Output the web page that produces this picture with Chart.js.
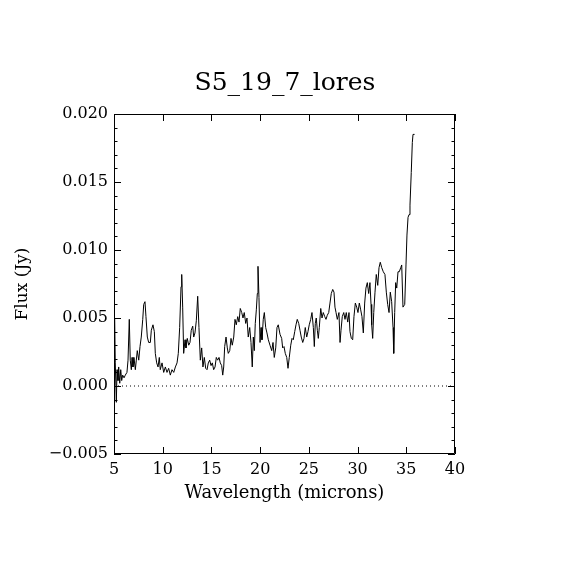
<!DOCTYPE html>
<html>
<head>
<meta charset="utf-8">
<title>S5_19_7_lores</title>
<script src="https://cdn.jsdelivr.net/npm/chart.js@4.4.1/dist/chart.umd.min.js"></script>
<style>
  html, body { margin: 0; padding: 0; background: #fff; }
  #wrap { width: 570px; height: 570px; }
</style>
</head>
<body>
<div id="wrap"><canvas id="spectrum"></canvas></div>
<script>
const wavelength = [
  5.07, 5.13, 5.24, 5.31, 5.41, 5.48, 5.59, 5.69, 5.79, 5.89,
  6.03, 6.16, 6.33, 6.44, 6.57, 6.67, 6.78, 6.85, 6.95, 7.05,
  7.19, 7.29, 7.39, 7.54, 7.67, 7.80, 7.95, 8.05, 8.18, 8.28,
  8.42, 8.56, 8.73, 8.83, 9.00, 9.14, 9.24, 9.38, 9.52, 9.65,
  9.75, 9.93, 10.10, 10.27, 10.44, 10.61, 10.78, 10.95, 11.13, 11.30,
  11.47, 11.60, 11.74, 11.88, 11.95, 12.05, 12.15, 12.29, 12.39, 12.52,
  12.67, 12.80, 12.93, 13.08, 13.18, 13.31, 13.45, 13.59, 13.72, 13.86,
  14.00, 14.13, 14.27, 14.41, 14.55, 14.68, 14.82, 14.96, 15.09, 15.23,
  15.37, 15.50, 15.64, 15.78, 15.91, 16.05, 16.16, 16.26, 16.36, 16.50,
  16.63, 16.73, 16.88, 17.01, 17.14, 17.29, 17.42, 17.55, 17.70, 17.83,
  17.96, 18.11, 18.24, 18.37, 18.52, 18.65, 18.78, 18.93, 19.06, 19.19,
  19.30, 19.40, 19.50, 19.61, 19.71, 19.78, 19.88, 19.99, 20.09, 20.19,
  20.32, 20.43, 20.57, 20.70, 20.84, 21.01, 21.19, 21.32, 21.45, 21.60,
  21.73, 21.86, 22.04, 22.21, 22.31, 22.45, 22.58, 22.73, 22.86, 22.99,
  23.14, 23.27, 23.40, 23.55, 23.68, 23.81, 23.96, 24.09, 24.22, 24.37,
  24.50, 24.63, 24.78, 24.91, 25.04, 25.19, 25.32, 25.46, 25.56, 25.66,
  25.76, 25.87, 25.97, 26.07, 26.22, 26.35, 26.48, 26.63, 26.76, 26.89,
  27.04, 27.17, 27.30, 27.45, 27.58, 27.68, 27.79, 27.92, 28.09, 28.20,
  28.30, 28.43, 28.58, 28.71, 28.84, 28.99, 29.12, 29.22, 29.36, 29.50,
  29.63, 29.77, 29.91, 30.04, 30.18, 30.32, 30.45, 30.59, 30.73, 30.86,
  31.00, 31.14, 31.27, 31.38, 31.45, 31.55, 31.66, 31.79, 31.92, 32.07,
  32.20, 32.33, 32.48, 32.64, 32.81, 32.95, 33.09, 33.23, 33.36, 33.50,
  33.64, 33.71, 33.81, 33.91, 34.02, 34.15, 34.28, 34.43, 34.53, 34.66,
  34.84, 34.97, 35.07, 35.18, 35.28, 35.38, 35.51, 35.62, 35.69, 35.85
];
const flux = [
  0.0050, 0.0017, -0.0012, 0.0012, 0.0004, 0.0014, 0.0002, 0.0012, 0.0004, 0.0008,
  0.0006, 0.0008, 0.0010, 0.0019, 0.0049, 0.0019, 0.0012, 0.0021, 0.0014, 0.0021,
  0.0012, 0.0019, 0.0026, 0.0019, 0.0029, 0.0036, 0.0049, 0.0060, 0.0062, 0.0051,
  0.0036, 0.0032, 0.0032, 0.0041, 0.0045, 0.0040, 0.0024, 0.0017, 0.0014, 0.0021,
  0.0012, 0.0017, 0.0010, 0.0014, 0.0010, 0.0013, 0.0008, 0.0012, 0.0010, 0.0014,
  0.0017, 0.0024, 0.0043, 0.0073, 0.0082, 0.0058, 0.0024, 0.0034, 0.0028, 0.0035,
  0.0030, 0.0032, 0.0041, 0.0044, 0.0036, 0.0039, 0.0048, 0.0066, 0.0043, 0.0019,
  0.0028, 0.0014, 0.0021, 0.0013, 0.0012, 0.0017, 0.0019, 0.0015, 0.0017, 0.0012,
  0.0014, 0.0021, 0.0019, 0.0021, 0.0017, 0.0015, 0.0008, 0.0014, 0.0029, 0.0036,
  0.0028, 0.0024, 0.0026, 0.0035, 0.0030, 0.0036, 0.0049, 0.0045, 0.0051, 0.0047,
  0.0057, 0.0054, 0.0050, 0.0054, 0.0046, 0.0050, 0.0036, 0.0043, 0.0032, 0.0014,
  0.0036, 0.0026, 0.0046, 0.0056, 0.0068, 0.0088, 0.0065, 0.0032, 0.0043, 0.0034,
  0.0049, 0.0054, 0.0043, 0.0039, 0.0034, 0.0030, 0.0026, 0.0032, 0.0021, 0.0028,
  0.0043, 0.0045, 0.0038, 0.0035, 0.0028, 0.0029, 0.0024, 0.0021, 0.0013, 0.0021,
  0.0030, 0.0035, 0.0034, 0.0040, 0.0045, 0.0049, 0.0046, 0.0041, 0.0036, 0.0032,
  0.0035, 0.0043, 0.0036, 0.0040, 0.0045, 0.0049, 0.0054, 0.0043, 0.0029, 0.0046,
  0.0050, 0.0041, 0.0035, 0.0043, 0.0057, 0.0050, 0.0054, 0.0051, 0.0049, 0.0052,
  0.0054, 0.0061, 0.0068, 0.0071, 0.0069, 0.0058, 0.0054, 0.0049, 0.0054, 0.0032,
  0.0041, 0.0051, 0.0054, 0.0049, 0.0054, 0.0047, 0.0054, 0.0040, 0.0035, 0.0034,
  0.0051, 0.0061, 0.0058, 0.0054, 0.0061, 0.0056, 0.0051, 0.0039, 0.0061, 0.0072,
  0.0076, 0.0068, 0.0076, 0.0060, 0.0045, 0.0035, 0.0054, 0.0069, 0.0082, 0.0074,
  0.0087, 0.0091, 0.0087, 0.0084, 0.0082, 0.0069, 0.0060, 0.0054, 0.0069, 0.0062,
  0.0043, 0.0024, 0.0054, 0.0076, 0.0072, 0.0084, 0.0084, 0.0087, 0.0089, 0.0058,
  0.0060, 0.0089, 0.0111, 0.0124, 0.0126, 0.0133, 0.0157, 0.0179, 0.0185, 0.0185
];

// dotted zero level
const zeroWave = [5, 40];
const zeroFlux = [0, 0];

const xTickValues = [5, 10, 15, 20, 25, 30, 35, 40];
const xTickLabels = ['5', '10', '15', '20', '25', '30', '35', '40'];
const yTickValues = [-0.005, 0, 0.005, 0.010, 0.015, 0.020];
const yTickLabels = ['\u22120.005', '0.000', '0.005', '0.010', '0.015', '0.020'];
const yMinorPerMajor = 5;

const serif = '"DejaVu Serif", "Liberation Serif", serif';

// box on all four sides with ticks pointing inward, the way IDL draws it
const framePlugin = {
  id: 'frame',
  afterDatasetsDraw(chart) {
    const { ctx, chartArea: a, scales: { x, y } } = chart;
    const major = 7, minor = 3.5;
    ctx.save();
    ctx.strokeStyle = '#000';
    ctx.lineWidth = 1;
    ctx.beginPath();
    ctx.rect(a.left + 0.5, a.top + 0.5, a.right - a.left - 1, a.bottom - a.top - 1);
    xTickValues.forEach(v => {
      const px = Math.round(x.getPixelForValue(v)) + 0.5;
      ctx.moveTo(px, a.bottom); ctx.lineTo(px, a.bottom - major);
      ctx.moveTo(px, a.top); ctx.lineTo(px, a.top + major);
    });
    for (let i = 0; i < yTickValues.length; i++) {
      const py = Math.round(y.getPixelForValue(yTickValues[i])) + 0.5;
      ctx.moveTo(a.left, py); ctx.lineTo(a.left + major, py);
      ctx.moveTo(a.right, py); ctx.lineTo(a.right - major, py);
      if (i === yTickValues.length - 1) break;
      const step = (yTickValues[i + 1] - yTickValues[i]) / yMinorPerMajor;
      for (let k = 1; k < yMinorPerMajor; k++) {
        const pm = Math.round(y.getPixelForValue(yTickValues[i] + k * step)) + 0.5;
        ctx.moveTo(a.left, pm); ctx.lineTo(a.left + minor, pm);
        ctx.moveTo(a.right, pm); ctx.lineTo(a.right - minor, pm);
      }
    }
    ctx.stroke();
    ctx.restore();
  }
};

const ctx = document.getElementById('spectrum').getContext('2d');
const spectrumChart = new Chart(ctx, {
  type: 'line',
  data: {
    datasets: [
      {
        data: wavelength.map((w, i) => ({ x: w, y: flux[i] })),
        borderColor: '#000',
        borderWidth: 1,
        pointRadius: 0,
        tension: 0
      },
      {
        data: zeroWave.map((w, i) => ({ x: w, y: zeroFlux[i] })),
        borderColor: '#000',
        borderWidth: 1,
        borderDash: [1, 3],
        pointRadius: 0
      }
    ]
  },
  options: {
    responsive: true,
    maintainAspectRatio: false,
    animation: false,
    events: [],
    layout: { padding: 0 },
    plugins: {
      legend: { display: false },
      tooltip: { enabled: false },
      title: {
        display: true,
        text: 'S5_19_7_lores',
        color: '#000',
        font: { family: serif, size: 25, weight: 'normal' },
        padding: { top: 68, bottom: 16 }
      }
    },
    scales: {
      x: {
        type: 'linear',
        min: 5,
        max: 40,
        afterBuildTicks: s => { s.ticks = xTickValues.map(v => ({ value: v })); },
        afterFit: s => { s.height = 116; },
        grid: { display: false, drawTicks: false },
        border: { display: false },
        ticks: {
          color: '#000',
          font: { family: serif, size: 16 },
          padding: 6,
          autoSkip: false,
          maxRotation: 0,
          callback: (v, i) => xTickLabels[i]
        },
        title: {
          display: true,
          text: 'Wavelength (microns)',
          color: '#000',
          font: { family: serif, size: 18 },
          padding: { top: 0, bottom: 66 }
        }
      },
      y: {
        type: 'linear',
        min: -0.005,
        max: 0.020,
        afterBuildTicks: s => { s.ticks = yTickValues.map(v => ({ value: v })); },
        afterFit: s => { s.width = 114; },
        grid: { display: false, drawTicks: false },
        border: { display: false },
        ticks: {
          color: '#000',
          font: { family: serif, size: 16 },
          padding: 6,
          autoSkip: false,
          callback: (v, i) => yTickLabels[i]
        },
        title: {
          display: true,
          text: 'Flux (Jy)',
          color: '#000',
          font: { family: serif, size: 17 },
          padding: { top: 12, bottom: 0 }
        }
      },
      // empty right-hand margin so the title centres on the whole page
      yRight: {
        type: 'linear',
        position: 'right',
        min: -0.005,
        max: 0.020,
        afterFit: s => { s.width = 115; },
        grid: { display: false, drawTicks: false },
        border: { display: false },
        ticks: { display: false }
      }
    }
  },
  plugins: [framePlugin]
});
</script>
</body>
</html>
